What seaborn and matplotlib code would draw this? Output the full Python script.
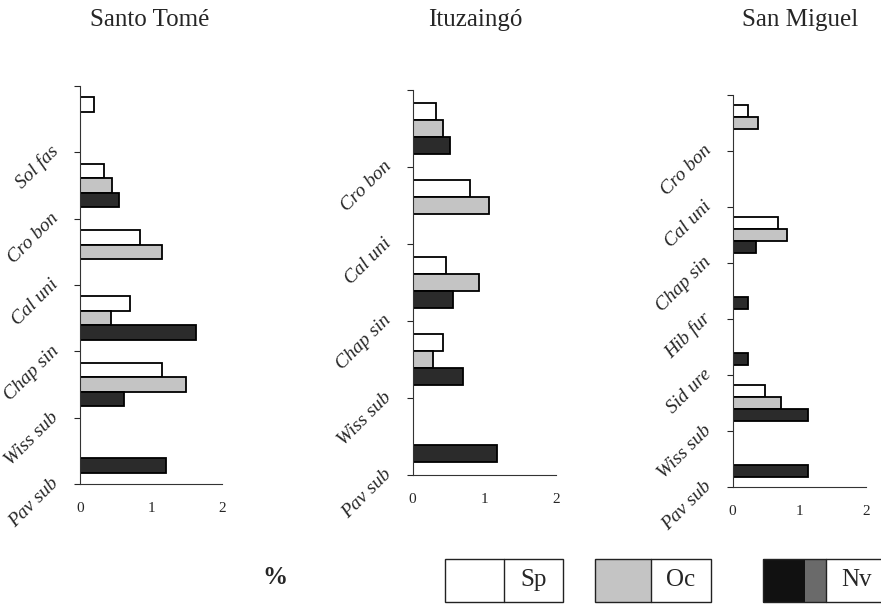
import numpy as np
import pandas as pd
import seaborn as sns
import matplotlib.pyplot as plt
from matplotlib.patches import Rectangle

nan = np.nan

# 各地點資料 (Sp / Oc / Nv, %)
groups = ['Sp', 'Oc', 'Nv']

st_species = ['Sol fas', 'Cro bon', 'Cal uni', 'Chap sin', 'Wiss sub', 'Pav sub']
st_sp = [0.20, 0.34, 0.85, 0.70, 1.16, nan]
st_oc = [nan, 0.45, 1.16, 0.44, 1.49, nan]
st_nv = [nan, 0.55, nan, 1.64, 0.62, 1.21]

it_species = ['Cro bon', 'Cal uni', 'Chap sin', 'Wiss sub', 'Pav sub']
it_sp = [0.33, 0.80, 0.47, 0.43, nan]
it_oc = [0.43, 1.07, 0.93, 0.29, nan]
it_nv = [0.53, nan, 0.57, 0.71, 1.18]

sm_species = ['Cro bon', 'Cal uni', 'Chap sin', 'Hib fur', 'Sid ure', 'Wiss sub', 'Pav sub']
sm_sp = [0.24, nan, 0.68, nan, nan, 0.49, nan]
sm_oc = [0.38, nan, 0.82, nan, nan, 0.73, nan]
sm_nv = [nan, nan, 0.35, 0.24, 0.24, 1.13, 1.13]

sites = ['Santo Tomé', 'Ituzaingó', 'San Miguel']
x_ticks = [0, 1, 2]

colors = {'Sp': '#ffffff', 'Oc': '#c4c4c4', 'Nv': '#2b2b2b'}

W, H = 881, 605
sns.set_style('white')
plt.rcParams['font.family'] = ['Liberation Serif', 'DejaVu Serif']


def to_long(species, sp, oc, nv):
    # 轉成長格式給 seaborn 用
    rows = []
    for s, a, b, c in zip(species, sp, oc, nv):
        rows.append((s, 'Sp', a))
        rows.append((s, 'Oc', b))
        rows.append((s, 'Nv', c))
    return pd.DataFrame(rows, columns=['species', 'group', 'value'])


def px_rect(x0, y0, x1, y1):
    # 像素座標 -> figure 座標
    return [x0 / W, 1 - y1 / H, (x1 - x0) / W, (y1 - y0) / H]


fig = plt.figure(figsize=(W / 100, H / 100), dpi=100)

panels = [
    (sites[0], st_species, st_sp, st_oc, st_nv, (80, 86, 222, 484), 150),
    (sites[1], it_species, it_sp, it_oc, it_nv, (412.5, 90, 555.7, 475), 475),
    (sites[2], sm_species, sm_sp, sm_oc, sm_nv, (732.5, 95, 865.7, 487), 800),
]

for name, species, sp, oc, nv, box, title_x in panels:
    ax = fig.add_axes(px_rect(*box))
    df = to_long(species, sp, oc, nv)
    sns.barplot(data=df, y='species', x='value', hue='group', order=species,
                hue_order=groups, palette=colors, orient='h', width=0.66,
                edgecolor='black', linewidth=1.3, legend=False, ax=ax)
    n = len(species)
    ax.set_xlim(0, 2)
    ax.set_ylim(n - 0.5, -0.5)
    # 標籤放在每格的下緣
    ax.set_yticks(np.arange(-0.5, n), labels=[''] + species)
    for lab in ax.get_yticklabels():
        lab.set_rotation(45)
        lab.set_rotation_mode('anchor')
        lab.set_ha('right')
        lab.set_va('baseline')
        lab.set_fontstyle('italic')
        lab.set_fontsize(14)
    ax.set_xticks(x_ticks, labels=[str(t) for t in x_ticks])
    ax.tick_params(axis='x', labelsize=11, length=3, width=0.8, pad=10)
    ax.tick_params(axis='y', length=4, width=0.8, pad=11, left=True)
    ax.set_xlabel('')
    ax.set_ylabel('')
    sns.despine(ax=ax)
    for sp_name in ['left', 'bottom']:
        ax.spines[sp_name].set_linewidth(0.8)
        ax.spines[sp_name].set_color('#333333')
    fig.text(title_x / W, 1 - 20 / H, name, ha='center', va='center', fontsize=18)

# 百分比符號
fig.text(275 / W, 1 - 578 / H, '%', ha='center', va='center', fontsize=18, fontweight='bold')

# 自製圖例
legend_boxes = [
    ('Sp', 445, 504, 563, [(445, 504, colors['Sp'])]),
    ('Oc', 595, 651, 711, [(595, 651, colors['Oc'])]),
    ('Nv', 763, 826, 890, [(763, 805, '#111111'), (805, 826, '#6a6a6a')]),
]
for label, x0, xs, x1, fills in legend_boxes:
    for a, b, c in fills:
        fig.add_artist(Rectangle((a / W, 1 - 602 / H), (b - a) / W, 43 / H,
                                 transform=fig.transFigure, facecolor=c,
                                 edgecolor='none'))
    fig.add_artist(Rectangle((x0 / W, 1 - 602 / H), (x1 - x0) / W, 43 / H,
                             transform=fig.transFigure, facecolor='none',
                             edgecolor='#222222', linewidth=1.0))
    fig.add_artist(plt.Line2D([xs / W, xs / W], [1 - 602 / H, 1 - 559 / H],
                              transform=fig.transFigure, color='#222222', linewidth=1.0))
    fig.text((xs + 30) / W, 1 - 580 / H, label, ha='center', va='center', fontsize=18)

fig.savefig('out.png', dpi=100)
